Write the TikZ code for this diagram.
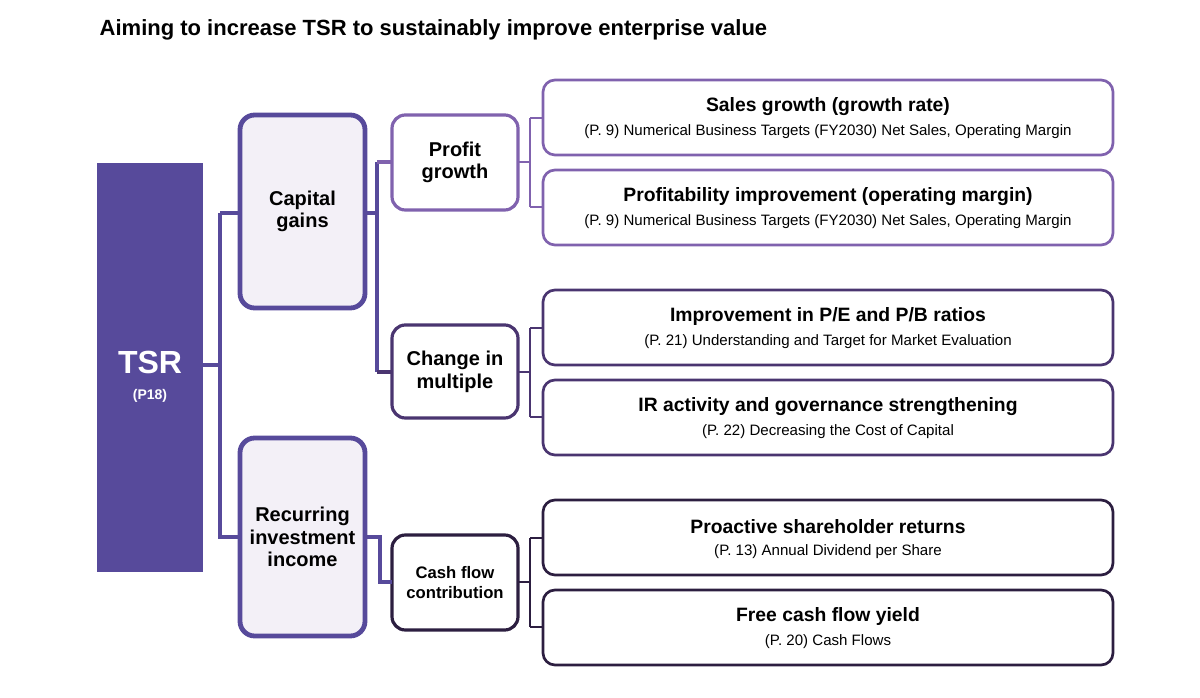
\documentclass[tikz,border=0pt]{standalone}
\usepackage{fontspec}
\setmainfont{Liberation Sans}
\begin{document}
\begin{tikzpicture}[x=0.75pt,y=-0.75pt,
 lab/.style={font=\bfseries\fontsize{15}{17}\selectfont,align=center},
 mid/.style={draw,rounded corners=10pt,line width=2.4pt,fill=white},
 big/.style={draw=tsr,rounded corners=11pt,line width=3.6pt,fill=pale},
 rb/.style={draw,rounded corners=9pt,line width=2pt,fill=white},
 con/.style={line width=2.6pt}]
\definecolor{tsr}{HTML}{574A9B}
\definecolor{pale}{HTML}{F3F0F7}
\definecolor{ca}{HTML}{8062AE}
\definecolor{cb}{HTML}{4A3570}
\definecolor{cc}{HTML}{2C1E40}
\useasboundingbox (0,0) rectangle (1200,698);
\node[anchor=west,font=\bfseries\fontsize{16.5}{19}\selectfont] (title) at (95,30) {Aiming to increase TSR to sustainably improve enterprise value};
% TSR
\fill[tsr] (97,163) rectangle (203,572);
\node[text=white,font=\bfseries\fontsize{24}{26}\selectfont] (tsrt) at (150,362) {TSR};
\node[text=white,font=\bfseries\fontsize{10.5}{12}\selectfont] (tsrp) at (150,396) {(P18)};
\coordinate (tsr) at (203,365);
% level 2
\draw[big] (240,115) rectangle (365,308); \node[lab] (cg) at (302.5,211.5) {Capital\\gains};
\draw[big] (240,438) rectangle (365,636); \node[lab] (ri) at (302.5,537) {Recurring\\investment\\income};
\coordinate (cgL) at (240,213); \coordinate (cgR) at (365,213);
\coordinate (riL) at (240,537); \coordinate (riR) at (365,537);
% level 3
\draw[mid,draw=ca] (392,115) rectangle (518,210); \node[lab] (pg) at (455,162.5) {Profit\\growth};
\draw[mid,draw=cb] (392,325) rectangle (518,418); \node[lab] (cm) at (455,371.5) {Change in\\multiple};
\draw[mid,draw=cc] (392,535) rectangle (518,630); \node[lab,font=\bfseries\fontsize{12.5}{15}\selectfont] (cf) at (455,582.5) {Cash flow\\contribution};
% connectors
\draw[con,tsr] (tsr) -- (220,365) (220,213) |- (cgL) (220,213) -- (220,537) -- (riL);
\draw[con,tsr] (cgR) -- (377,213) (377,162) -- (377,372);
\draw[con,ca] (377,162) -- (392,162);
\draw[con,cb] (377,372) -- (392,372);
\draw[con,tsr] (riR) -- (380,537) -- (380,582) -- (392,582);
% right boxes
\foreach \y/\c/\t/\s in {80/ca/{Sales growth (growth rate)}/{(P. 9) Numerical Business Targets (FY2030) Net Sales, Operating Margin},
 170/ca/{Profitability improvement (operating margin)}/{(P. 9) Numerical Business Targets (FY2030) Net Sales, Operating Margin},
 290/cb/{Improvement in P/E and P/B ratios}/{(P. 21) Understanding and Target for Market Evaluation},
 380/cb/{IR activity and governance strengthening}/{(P. 22) Decreasing the Cost of Capital},
 500/cc/{Proactive shareholder returns}/{(P. 13) Annual Dividend per Share},
 590/cc/{Free cash flow yield}/{(P. 20) Cash Flows}}{
 \draw[rb,draw=\c] (543,\y) rectangle (1113,\y+75);
 \node[font=\bfseries\fontsize{14.5}{16}\selectfont] at (828,\y+27) {\t};
 \node[font=\fontsize{11.3}{13}\selectfont] at (828,\y+52) {\s};
}
\foreach \a/\b/\m/\c in {118/207/162/ca,328/417/372/cb,538/627/582/cc}{
 \draw[line width=2pt,\c] (518,\m) -- (530,\m) (530,\a) -- (530,\b) (530,\a) -- (543,\a) (530,\b) -- (543,\b);
}
\end{tikzpicture}
\end{document}
